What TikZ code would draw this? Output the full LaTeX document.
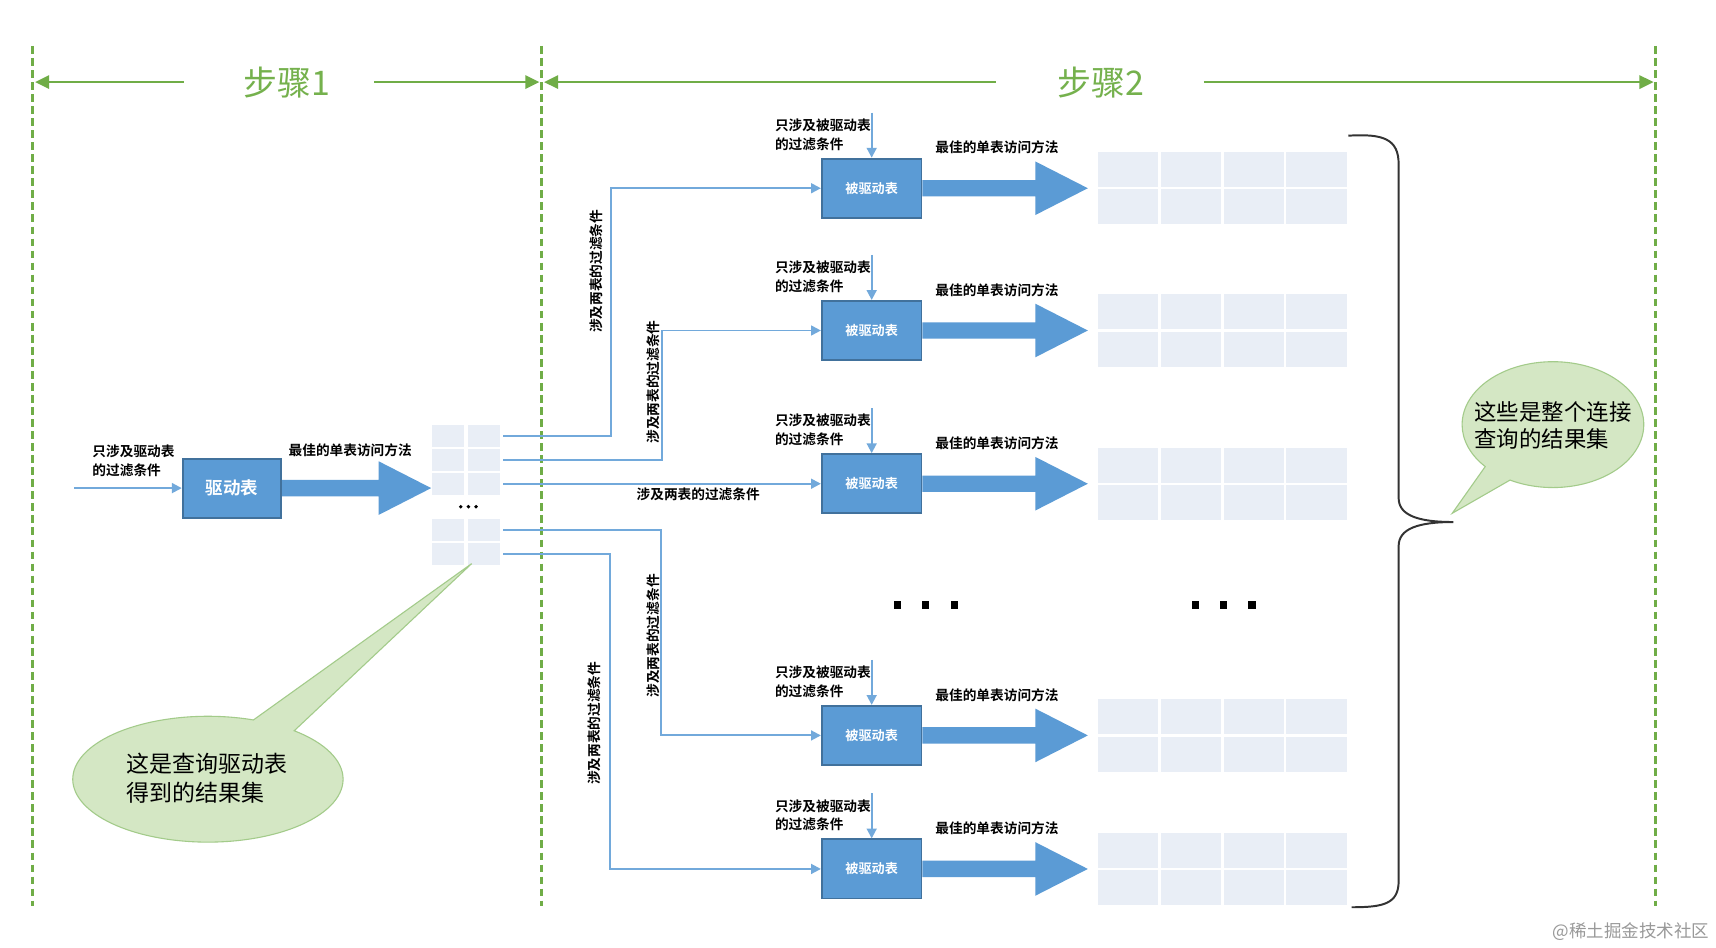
\documentclass[tikz,border=0pt]{standalone}
\usepackage{fontspec}
\setmainfont{Noto Sans CJK SC}[BoldFont={Noto Sans CJK SC Bold}]
\usetikzlibrary{arrows.meta,calc,shapes.callouts}
\definecolor{gline}{HTML}{70AD47}
\definecolor{gtext}{HTML}{75B14D}
\definecolor{bfill}{HTML}{5B9BD5}
\definecolor{bdraw}{HTML}{41719C}
\definecolor{bline}{HTML}{72A9DB}
\definecolor{cellc}{HTML}{E9EEF6}
\definecolor{cfill}{HTML}{D4E7C4}
\definecolor{cdraw}{HTML}{A3CB8A}
\newcommand\myfatarrow[2]{%
  \fill[bfill] ($(#1)+(0,-7.5)$) -- ($(#2)+(-48,-7.5)$) -- ($(#2)+(-48,-24.5)$) -- (#2)
    -- ($(#2)+(-48,24.5)$) -- ($(#2)+(-48,7.5)$) -- ($(#1)+(0,7.5)$) -- cycle;}
\tikzset{
  lbl/.style={font=\bfseries\fontsize{12.5}{17}\selectfont, inner sep=0pt, align=left},
  vlbl/.style={lbl, rotate=90},
  drvbox/.style={draw=bdraw, fill=bfill, line width=1.8pt, minimum width=90pt, minimum height=54pt,
    text=white, inner sep=0pt, font=\bfseries\fontsize{16}{18}\selectfont},
  drvnbox/.style={drvbox, minimum width=91pt, font=\bfseries\fontsize{12}{14}\selectfont},
  cellL/.style={fill=cellc, minimum width=29pt, minimum height=20pt, inner sep=0pt},
  cellR/.style={fill=cellc, minimum width=55pt, minimum height=32pt, inner sep=0pt},
  conn/.style={draw=bline, line width=1.8pt, -{Triangle[length=9pt,width=9pt]}},
  garrow/.style={draw=gline, line width=2.5pt, -{Triangle[length=13pt,width=12pt]}},
  gdash/.style={draw=gline, line width=2.6pt, dash pattern=on 7pt off 4pt},
  steplbl/.style={text=gtext, font=\fontsize{31}{34}\selectfont, inner sep=0pt},
  call/.style={ellipse callout, draw=cdraw, fill=cfill, line width=1pt, callout pointer arc=20, inner sep=0pt},
  calltext/.style={align=left, inner sep=0pt},
  bracepath/.style={draw=black!80, line width=1.8pt},
  dotn/.style={circle, fill=black, inner sep=0pt, minimum size=3.5pt},
  sqn/.style={rectangle, fill=black, inner sep=0pt, minimum width=6.5pt, minimum height=7.5pt},
}
\begin{document}
\begin{tikzpicture}[x=1pt,y=-1pt]
\useasboundingbox[fill=white] (0,0) rectangle (1568,866);

% dashed separators
\coordinate (l1t) at (30,42);   \coordinate (l1b) at (30,828);
\coordinate (l2t) at (495,42);  \coordinate (l2b) at (495,828);
\coordinate (l3t) at (1513,42); \coordinate (l3b) at (1513,828);
\draw[gdash] (l1t) -- (l1b);
\draw[gdash] (l2t) -- (l2b);
\draw[gdash] (l3t) -- (l3b);

% step headers
\node[steplbl] (s1) at (262,75) {步骤1};
\node[steplbl] (s2) at (1006,75) {步骤2};
\coordinate (a1s) at (168,75);  \coordinate (a1e) at (32,75);
\coordinate (a2s) at (342,75);  \coordinate (a2e) at (493,75);
\coordinate (a3s) at (910,75);  \coordinate (a3e) at (497,75);
\coordinate (a4s) at (1100,75); \coordinate (a4e) at (1511,75);
\draw[garrow] (a1s) -- (a1e);
\draw[garrow] (a2s) -- (a2e);
\draw[garrow] (a3s) -- (a3e);
\draw[garrow] (a4s) -- (a4e);

% step 1
\node[drvbox] (drv) at (212,446) {驱动表};
\node[lbl] (fl0) at (122,421) {只涉及驱动表\\的过滤条件};
\coordinate (in0) at (68,446);
\draw[conn] (in0) -- (drv.west);
\node[lbl] (bl0) at (320,411) {最佳的单表访问方法};
\coordinate (t0) at (394,446);
\myfatarrow{drv.east}{t0}

% left result grid
\foreach \r/\y in {1/398,2/420,3/442,4/484,5/506}{
  \foreach \k/\x in {1/409.5,2/442}{
    \node[cellL] (lg\r\k) at (\x,\y) {};
  }
}
\node[dotn] (ld1) at (421,463) {};
\node[dotn] (ld2) at (428,463) {};
\node[dotn] (ld3) at (435,463) {};

% step 2: driven tables
\foreach \i/\c in {1/172,2/302,3/442,4/672,5/794}{
  \node[drvnbox] (b\i) at (796.5,\c) {被驱动表};
  \coordinate (f\i) at (796.5,\c-69);
  \draw[conn] (f\i) -- (b\i.north);
  \node[lbl, anchor=west] (fl\i) at (708,\c-49) {只涉及被驱动表\\的过滤条件};
  \node[lbl] (bl\i) at (911,\c-37) {最佳的单表访问方法};
  \coordinate (t\i) at (994,\c);
  \myfatarrow{b\i.east}{t\i}
  \foreach \r/\dy in {1/-17,2/17}{
    \foreach \k/\x in {1/1030.5,2/1088,3/1145.5,4/1203}{
      \node[cellR] (r\i\r\k) at (\x,\c+\dy) {};
    }
  }
}

% connectors from driving result to driven tables
\coordinate (v1) at (558,0);
\coordinate (v2) at (605,0);
\coordinate (v4) at (604,0);
\coordinate (v5) at (557,0);
\draw[conn] ([xshift=3pt]lg12.east) -| (v1 |- b1.west) -- (b1.west);
\draw[conn] ([xshift=3pt]lg22.east) -| (v2 |- b2.west) -- (b2.west);
\draw[conn] ([xshift=3pt]lg32.east) -- (b3.west);
\draw[conn] ([xshift=3pt]lg42.east) -| (v4 |- b4.west) -- (b4.west);
\draw[conn] ([xshift=3pt]lg52.east) -| (v5 |- b5.west) -- (b5.west);
\node[vlbl] (cl1) at (545,248) {涉及两表的过滤条件};
\node[vlbl] (cl2) at (597,349) {涉及两表的过滤条件};
\node[lbl]  (cl3) at (638,452) {涉及两表的过滤条件};
\node[vlbl] (cl4) at (597,581) {涉及两表的过滤条件};
\node[vlbl] (cl5) at (543,661) {涉及两表的过滤条件};

% ellipsis in the middle
\node[sqn] (m1) at (820,553) {};
\node[sqn] (m2) at (846,553) {};
\node[sqn] (m3) at (872,553) {};
\node[sqn] (m4) at (1092,553) {};
\node[sqn] (m5) at (1118,553) {};
\node[sqn] (m6) at (1144,553) {};

% brace
\draw[bracepath] (1232,124) .. controls (1264,122) and (1278,127) .. (1278,150)
  -- (1278,455) .. controls (1278,471) and (1296,477) .. (1328,477)
  .. controls (1296,477) and (1278,483) .. (1278,499)
  -- (1278,805) .. controls (1278,826) and (1264,829) .. (1235,829);

% callouts
\node[call, minimum width=247pt, minimum height=115pt, callout absolute pointer={(431,515)}] (c1) at (190,712) {};
\node[calltext, font=\fontsize{21}{27}\selectfont] (c1t) at (189,711) {这是查询驱动表\\得到的结果集};
\node[call, minimum width=166pt, minimum height=115pt, callout absolute pointer={(1327,469)}] (c2) at (1419,388) {};
\node[calltext, font=\fontsize{20.5}{25}\selectfont] (c2t) at (1419,389) {这些是整个连接\\查询的结果集};

% watermark
\node[text=black!40, font=\fontsize{16}{18}\selectfont, inner sep=0pt, anchor=east] (wm) at (1562,851) {@稀土掘金技术社区};
\end{tikzpicture}
\end{document}
